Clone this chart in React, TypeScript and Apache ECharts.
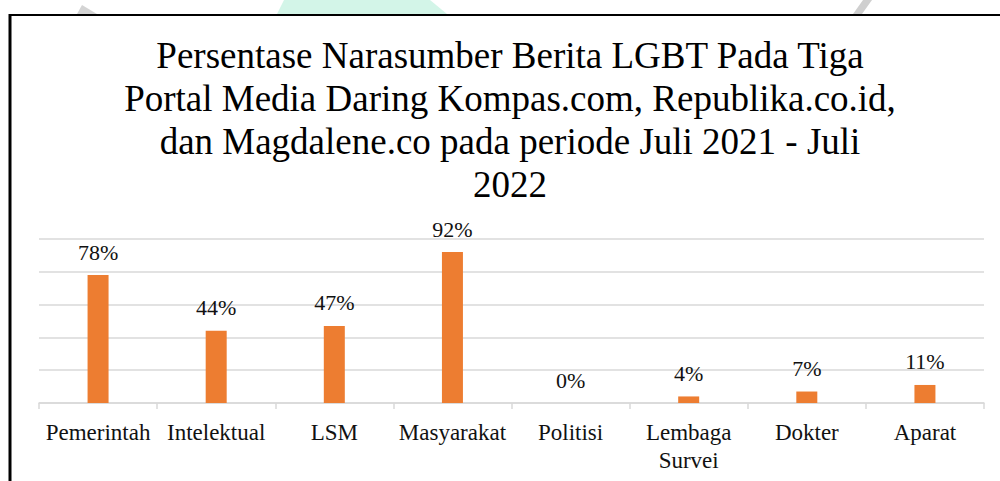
import React, { useEffect, useRef } from "react";
import * as echarts from "echarts";

const categories = ["Pemerintah", "Intelektual", "LSM", "Masyarakat", "Politisi", "Lembaga Survei", "Dokter", "Aparat"];
const percentages = [78, 44, 47, 92, 0, 4, 7, 11];
const titleLines = [
  "Persentase Narasumber Berita LGBT Pada Tiga",
  "Portal Media Daring Kompas.com, Republika.co.id,",
  "dan Magdalene.co pada periode Juli 2021 - Juli",
  "2022",
];

const SERIF = "Liberation Serif, Times New Roman, serif";

export default function App() {
  const ref = useRef<HTMLDivElement>(null);
  useEffect(() => {
    if (!ref.current) return;
    const chart = echarts.init(ref.current, undefined, { renderer: "svg" });
    chart.setOption({
      animation: false,
      backgroundColor: "#ffffff",
      textStyle: { fontFamily: SERIF },
      grid: { left: 39, right: 16, top: 239, bottom: 78, containLabel: false },
      xAxis: {
        type: "category",
        data: categories,
        axisLine: { show: true, lineStyle: { color: "#D9D9D9", width: 1.5 } },
        axisTick: { show: true, length: 6, alignWithLabel: false, lineStyle: { color: "#D9D9D9", width: 1.5 } },
        axisLabel: {
          interval: 0,
          margin: 15,
          color: "#111111",
          fontFamily: SERIF,
          fontSize: 23,
          lineHeight: 28,
          formatter: (v: string) => (v === "Lembaga Survei" ? "Lembaga\nSurvei" : v),
        },
      },
      yAxis: {
        type: "value",
        min: 0,
        max: 100,
        interval: 20,
        axisLabel: { show: false },
        axisLine: { show: false },
        axisTick: { show: false },
        splitLine: { show: true, lineStyle: { color: "#D9D9D9", width: 1.5 } },
      },
      series: [
        {
          type: "bar",
          data: percentages,
          barWidth: 21,
          itemStyle: { color: "#ED7D31" },
          label: {
            show: true,
            position: "top",
            distance: 12,
            formatter: "{c}%",
            color: "#111111",
            fontFamily: SERIF,
            fontSize: 22,
          },
        },
      ],
      graphic: [
        { type: "polygon", shape: { points: [[284, 0], [430, 0], [447, 14], [277, 14]] }, style: { fill: "#D3F5E8" }, silent: true },
        { type: "polygon", shape: { points: [[82, 5], [97, 14], [77, 14]] }, style: { fill: "#D4D4D4" }, silent: true },
        { type: "polygon", shape: { points: [[863, 0], [872, 0], [862, 14], [853, 14]] }, style: { fill: "#CFCFCF" }, silent: true },
        { type: "line", shape: { x1: 9, y1: 15, x2: 1000, y2: 15 }, style: { stroke: "#000000", lineWidth: 2 }, silent: true },
        { type: "line", shape: { x1: 10, y1: 14, x2: 10, y2: 481 }, style: { stroke: "#000000", lineWidth: 3 }, silent: true },
        {
          type: "text",
          x: 510,
          y: 34,
          silent: true,
          style: {
            text: titleLines.join("\n"),
            font: "normal 37px " + SERIF,
            fontFamily: SERIF,
            fontSize: 37,
            lineHeight: 43,
            align: "center",
            verticalAlign: "top",
            fill: "#000000",
          },
        },
      ],
    });
    return () => chart.dispose();
  }, []);
  return <div ref={ref} style={{ position: "absolute", left: 0, top: 0, width: 1000, height: 481 }} />;
}
